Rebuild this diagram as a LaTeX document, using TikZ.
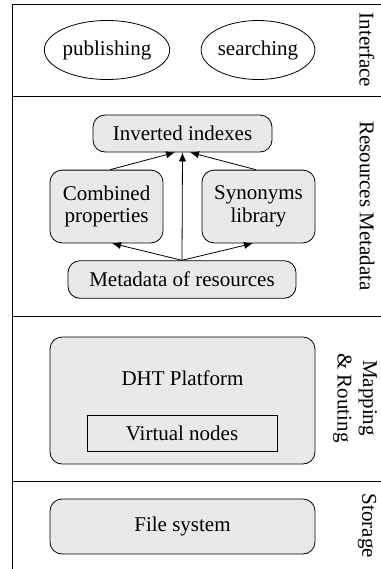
\documentclass[tikz,border=0pt]{standalone}
\usepackage{fontspec}
\setmainfont{Liberation Serif}
\usetikzlibrary{shapes.geometric,arrows.meta}

\begin{document}
\begin{tikzpicture}[>={Latex[length=4.5pt,width=3.6pt]},x=0.5pt,y=-0.5pt,
  font=\fontsize{10.5}{11.2}\selectfont,
  box/.style={draw,rounded corners=6pt,fill=gray!17,align=center,inner sep=0pt},
  op/.style={draw,ellipse,minimum width=56.5pt,minimum height=29.5pt,inner sep=0pt},
  layer/.style={rotate=-90,align=center,inner sep=0pt,font=\fontsize{10.5}{12.8}\selectfont}]
\useasboundingbox (0,0) rectangle (381,569);
% layers
\draw (381,4) -- (12,4) -- (12,569);
\draw (12,96) -- (381,96);
\draw (12,316) -- (381,316);
\draw (12,481) -- (381,481);
\node[layer] (interface) at (367,50) {Interface};
\node[layer] (resmeta) at (367,206) {Resources Metadata};
\node[layer] (maprout) at (355,398) {Mapping\\\& Routing};
\node[layer] (storage) at (367,526) {Storage};
% interface
\node[op] (publish) at (107,50) {publishing};
\node[op] (search) at (258,50) {searching};
% resources metadata
\node[box,minimum width=89.5pt,minimum height=18.5pt] (inv) at (182.5,133.5) {Inverted indexes};
\node[box,minimum width=56.5pt,minimum height=36.4pt] (comb) at (106.5,206.5) {Combined\\properties};
\node[box,minimum width=56.5pt,minimum height=36.4pt] (syn) at (258.5,206.5) {Synonyms\\library};
\node[box,minimum width=114pt,minimum height=18.8pt] (meta) at (182,279.5) {Metadata of resources};
\draw [->] (meta.north) -- (comb.south east -| 112,0);
\draw [->] (meta.north) -- (syn.south west -| 253,0);
\draw [->] (meta.north) -- (inv.south);
\draw [->] (comb.north east -| 110,0) -- (inv.south -| 175,0);
\draw [->] (syn.north west -| 256,0) -- (inv.south -| 190,0);
% mapping & routing
\node[box,minimum width=132.5pt,minimum height=63.5pt] (dht) at (182.5,400.5) {};
\node (dhtname) at (182.5,378) {DHT Platform};
\node[draw,minimum width=95pt,minimum height=18.3pt,inner sep=0pt] (vnodes) at (182,433.5) {Virtual nodes};
% storage
\node[box,minimum width=132.5pt,minimum height=27.5pt] (fs) at (182.5,526.5) {File system};
\end{tikzpicture}
\end{document}
